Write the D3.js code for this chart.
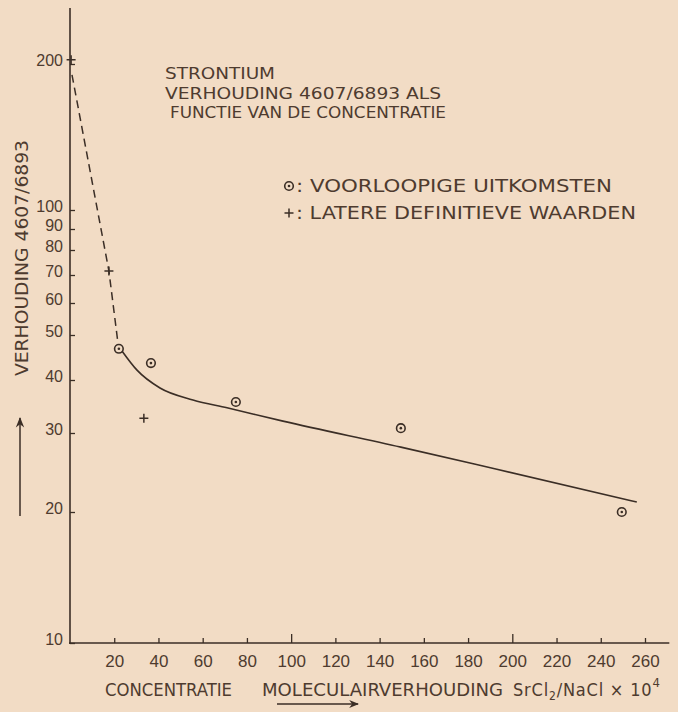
<!DOCTYPE html>
<html>
<head>
<meta charset="utf-8">
<script src="https://cdn.jsdelivr.net/npm/d3@7"></script>
<style>
  html, body { margin: 0; padding: 0; background: #f2dcc5; }
  svg { display: block; }
  text { font-family: "Liberation Sans Narrow", "DejaVu Sans Condensed", "Open Sans", sans-serif; fill: #4e3b2f; }
</style>
</head>
<body>
<div id="chart"></div>
<script>
// tick values
const xTicks = [20, 40, 60, 80, 100, 120, 140, 160, 180, 200, 220, 240, 260];
const yTicks = [10, 20, 30, 40, 50, 60, 70, 80, 90, 100, 200];

// voorloopige uitkomsten (circles)
const prelimX = [22.1, 36.6, 75, 149.6, 249.5];
const prelimY = [46.7, 43.5, 35.5, 30.8, 20.0];

// latere definitieve waarden (plus signs)
const finalX = [0.5, 17.6, 33.4];
const finalY = [204, 71.5, 32.5];

// dashed part of the curve
const dashX = [0.9, 17.6, 21.7];
const dashY = [190, 71.5, 48.0];

// solid curve
const curveX = [23.5, 30.3, 40.7, 55.6, 71, 96.3, 149.6, 193, 256.3];
const curveY = [46.2, 42.0, 38.3, 35.9, 34.4, 32.0, 27.9, 24.9, 21.05];

const W = 678, H = 712;
const ink = "#3b2e26";

const svg = d3.select("#chart")
    .append("svg")
    .attr("width", W)
    .attr("height", H);

svg.append("defs").append("marker")
    .attr("id", "arrow")
    .attr("viewBox", "0 0 10 10")
    .attr("refX", 9).attr("refY", 5)
    .attr("markerWidth", 9).attr("markerHeight", 7)
    .attr("orient", "auto-start-reverse")
    .append("path")
    .attr("d", "M0,1 L10,5 L0,9 L3,5 Z")
    .attr("fill", ink);

// x: linear, hand drawn axis is very regular
const x = d3.scaleLinear()
    .domain([0, 260])
    .range([70, 645]);

// y: logarithmic, piecewise so that it follows the hand drawn tick marks
const y = d3.scaleLog()
    .domain(yTicks)
    .range([643, 512, 433, 380, 335, 303, 275, 250, 229, 210, 64]);

const xEnd = 271;   // axis line runs a bit past 260
const yTop = 8;     // pixel where the vertical axis line stops

// axis lines
svg.append("line")
    .attr("x1", x(0)).attr("x2", x(0))
    .attr("y1", y(10) + 1).attr("y2", yTop)
    .attr("stroke", ink).attr("stroke-width", 1.6);
svg.append("line")
    .attr("x1", x(0) - 1).attr("x2", x(xEnd))
    .attr("y1", y(10)).attr("y2", y(10))
    .attr("stroke", ink).attr("stroke-width", 1.6);

// X axis
const gx = svg.append("g")
    .attr("transform", `translate(0, ${y(10)})`)
    .call(d3.axisBottom(x).tickValues(xTicks).tickSize(-5).tickPadding(12));
gx.select(".domain").remove();
gx.selectAll(".tick line")
    .attr("stroke", ink).attr("stroke-width", 1.3)
    .attr("y2", d => (d === 100 || d === 200) ? -9 : -5);
gx.selectAll(".tick text")
    .attr("font-size", 17)
    .attr("fill", "#4e3b2f")
    .style("font-family", "inherit");

// Y axis
const gy = svg.append("g")
    .attr("transform", `translate(${x(0)}, 0)`)
    .call(d3.axisLeft(y).tickValues(yTicks).tickFormat(d3.format("d")).tickSize(-5).tickPadding(7));
gy.select(".domain").remove();
gy.selectAll(".tick line").attr("stroke", ink).attr("stroke-width", 1.3);
gy.selectAll(".tick text")
    .attr("font-size", 16)
    .attr("dy", "0.1em")
    .attr("fill", "#4e3b2f")
    .style("font-family", "inherit");

// curves
const line = d3.line()
    .x(d => x(d[0]))
    .y(d => y(d[1]));

svg.append("path")
    .datum(d3.zip(dashX, dashY))
    .attr("d", line.curve(d3.curveLinear))
    .attr("fill", "none")
    .attr("stroke", ink)
    .attr("stroke-width", 1.5)
    .attr("stroke-dasharray", "8,5");

svg.append("path")
    .datum(d3.zip(curveX, curveY))
    .attr("d", line.curve(d3.curveMonotoneX))
    .attr("fill", "none")
    .attr("stroke", ink)
    .attr("stroke-width", 1.6);

// markers
function drawCircle(g, cx, cy) {
    g.append("circle").attr("cx", cx).attr("cy", cy).attr("r", 4.3)
        .attr("fill", "none").attr("stroke", ink).attr("stroke-width", 1.6);
    g.append("circle").attr("cx", cx).attr("cy", cy).attr("r", 1.3).attr("fill", ink);
}
function drawPlus(g, cx, cy) {
    g.append("path")
        .attr("d", `M${cx - 4.5},${cy} H${cx + 4.5} M${cx},${cy - 4.5} V${cy + 4.5}`)
        .attr("stroke", ink).attr("stroke-width", 1.5);
}

const marks = svg.append("g");
d3.zip(prelimX, prelimY).forEach(d => drawCircle(marks, x(d[0]), y(d[1])));
d3.zip(finalX, finalY).forEach(d => drawPlus(marks, x(d[0]), y(d[1])));

// title
const title = [
    { t: "STRONTIUM", x: 165, y: 79, len: 110 },
    { t: "VERHOUDING  4607/6893  ALS", x: 165, y: 99, len: 276 },
    { t: "FUNCTIE  VAN  DE  CONCENTRATIE", x: 170, y: 118, len: 276 }
];
svg.selectAll(".title")
    .data(title)
    .enter()
    .append("text")
    .attr("class", "title")
    .attr("x", d => d.x)
    .attr("y", d => d.y)
    .attr("font-size", 16)
    .attr("textLength", d => d.len)
    .attr("lengthAdjust", "spacingAndGlyphs")
    .text(d => d.t);

// legend
drawCircle(svg, 289, 186);
drawPlus(svg, 289, 213);
svg.append("text").attr("x", 296).attr("y", 192).attr("font-size", 17)
    .attr("textLength", 316).attr("lengthAdjust", "spacingAndGlyphs")
    .text(":  VOORLOOPIGE  UITKOMSTEN");
svg.append("text").attr("x", 296).attr("y", 219).attr("font-size", 17)
    .attr("textLength", 340).attr("lengthAdjust", "spacingAndGlyphs")
    .text(":  LATERE  DEFINITIEVE  WAARDEN");

// y axis title + arrow
svg.append("text")
    .attr("transform", "translate(28, 258) rotate(-90)")
    .attr("text-anchor", "middle")
    .attr("font-size", 18)
    .attr("textLength", 236)
    .attr("lengthAdjust", "spacingAndGlyphs")
    .text("VERHOUDING  4607/6893");
svg.append("line")
    .attr("x1", 20).attr("x2", 20)
    .attr("y1", 516).attr("y2", 418)
    .attr("stroke", ink).attr("stroke-width", 1.5)
    .attr("marker-end", "url(#arrow)");

// x axis title
svg.append("text").attr("x", 105).attr("y", 696).attr("font-size", 18)
    .attr("textLength", 127).attr("lengthAdjust", "spacingAndGlyphs")
    .text("CONCENTRATIE");
svg.append("text").attr("x", 262).attr("y", 696).attr("font-size", 18)
    .attr("textLength", 241).attr("lengthAdjust", "spacingAndGlyphs")
    .text("MOLECULAIRVERHOUDING");
const formula = svg.append("text").attr("x", 513).attr("y", 696)
    .attr("font-size", 18).attr("letter-spacing", 0.8);
formula.append("tspan").text("SrCl");
formula.append("tspan").attr("font-size", 12).attr("dy", 4).text("2");
formula.append("tspan").attr("dy", -4).text("/NaCl  × 10");
formula.append("tspan").attr("font-size", 13).attr("dy", -9).text("4");
svg.append("line")
    .attr("x1", 277).attr("x2", 358)
    .attr("y1", 704).attr("y2", 704)
    .attr("stroke", ink).attr("stroke-width", 1.4)
    .attr("marker-end", "url(#arrow)");
</script>
</body>
</html>
